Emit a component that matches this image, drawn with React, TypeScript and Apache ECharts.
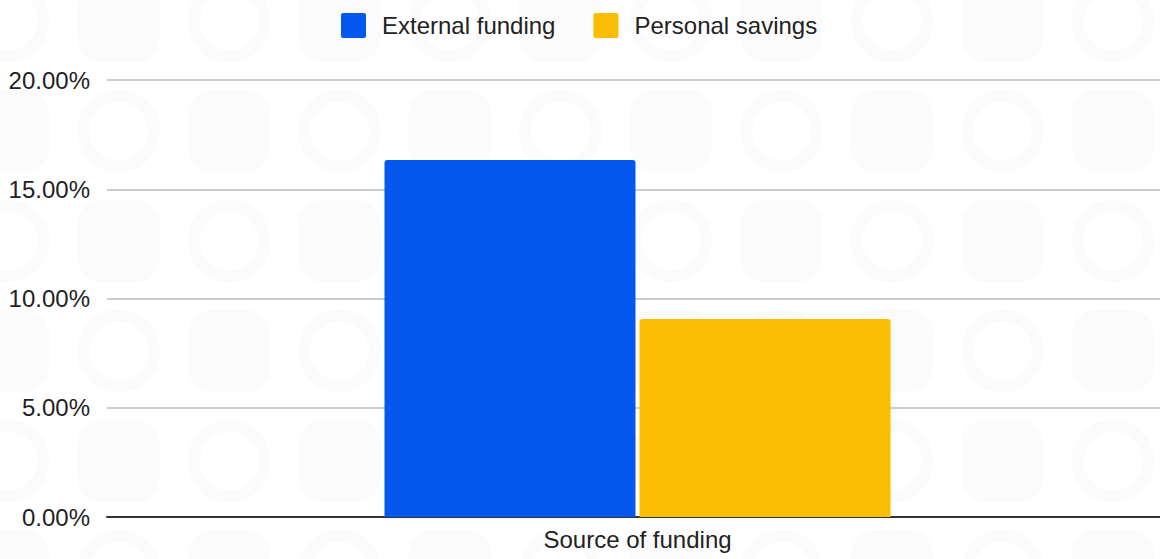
import React, { useEffect, useRef } from "react";
import * as echarts from "echarts";

const categories = ["Source of funding"];
const seriesNames = ["External funding", "Personal savings"];
const externalFunding = [16.34];
const personalSavings = [9.06];
const yTicks = { min: 0, max: 20, interval: 5 };
const colors = ["#0558EE", "#FABD03"];

function buildWatermark() {
  const items: any[] = [];
  const color = "#fbfbfb";
  for (let row = 0; row < 6; row++) {
    for (let col = 0; col < 11; col++) {
      const cx = 8 + col * 110.5;
      const cy = 21 + row * 110;
      if ((row + col) % 2 === 0) {
        items.push({
          type: "ring",
          z: -10,
          silent: true,
          shape: { cx, cy, r: 41.5, r0: 29.5 },
          style: { fill: color },
        });
      } else {
        items.push({
          type: "rect",
          z: -10,
          silent: true,
          shape: { x: cx - 41.5, y: cy - 41.5, width: 83, height: 83, r: 26 },
          style: { fill: color },
        });
      }
    }
  }
  return items;
}

export default function App() {
  const ref = useRef<HTMLDivElement>(null);
  useEffect(() => {
    document.body.style.margin = "0";
    document.body.style.overflow = "hidden";
    const chart = echarts.init(ref.current!, null, { renderer: "svg" });
    const font = "Arial, 'Liberation Sans', sans-serif";
    const icon =
      "path://M2,0 H22 A2,2 0 0 1 24,2 V22 A2,2 0 0 1 22,24 H2 A2,2 0 0 1 0,22 V2 A2,2 0 0 1 2,0 Z";
    chart.setOption({
      animation: false,
      backgroundColor: "#ffffff",
      color: colors,
      textStyle: { fontFamily: font },
      graphic: buildWatermark(),
      legend: {
        top: 8,
        left: 336,
        itemWidth: 25,
        itemHeight: 25,
        itemGap: 38,
        icon,
        textStyle: {
          fontSize: 24,
          color: "#222222",
          fontFamily: font,
          padding: [0, 0, 0, 11],
        },
        data: seriesNames,
      },
      grid: { left: 107, right: 0, top: 80, bottom: 42, containLabel: false },
      xAxis: {
        type: "category",
        data: categories,
        axisLine: { show: true, lineStyle: { color: "#333333", width: 2 } },
        axisTick: { show: false },
        axisLabel: { fontSize: 24, color: "#222222", margin: 10, fontFamily: font },
      },
      yAxis: {
        type: "value",
        min: yTicks.min,
        max: yTicks.max,
        interval: yTicks.interval,
        axisLine: { show: false },
        axisTick: { show: false },
        splitLine: { lineStyle: { color: "#cccccc", width: 2 } },
        axisLabel: {
          fontSize: 24,
          color: "#222222",
          margin: 17,
          fontFamily: font,
          formatter: (v: number) => v.toFixed(2) + "%",
        },
      },
      series: [
        {
          name: seriesNames[0],
          type: "bar",
          data: externalFunding,
          barWidth: 251,
          barGap: "1.6%",
          itemStyle: { borderRadius: [3, 3, 0, 0] },
        },
        {
          name: seriesNames[1],
          type: "bar",
          data: personalSavings,
          barWidth: 251,
          barGap: "1.6%",
          itemStyle: { borderRadius: [3, 3, 0, 0] },
        },
      ],
    });
    return () => chart.dispose();
  }, []);
  return (
    <div
      ref={ref}
      style={{ position: "fixed", left: 0, top: 0, width: 1168, height: 559 }}
    />
  );
}
